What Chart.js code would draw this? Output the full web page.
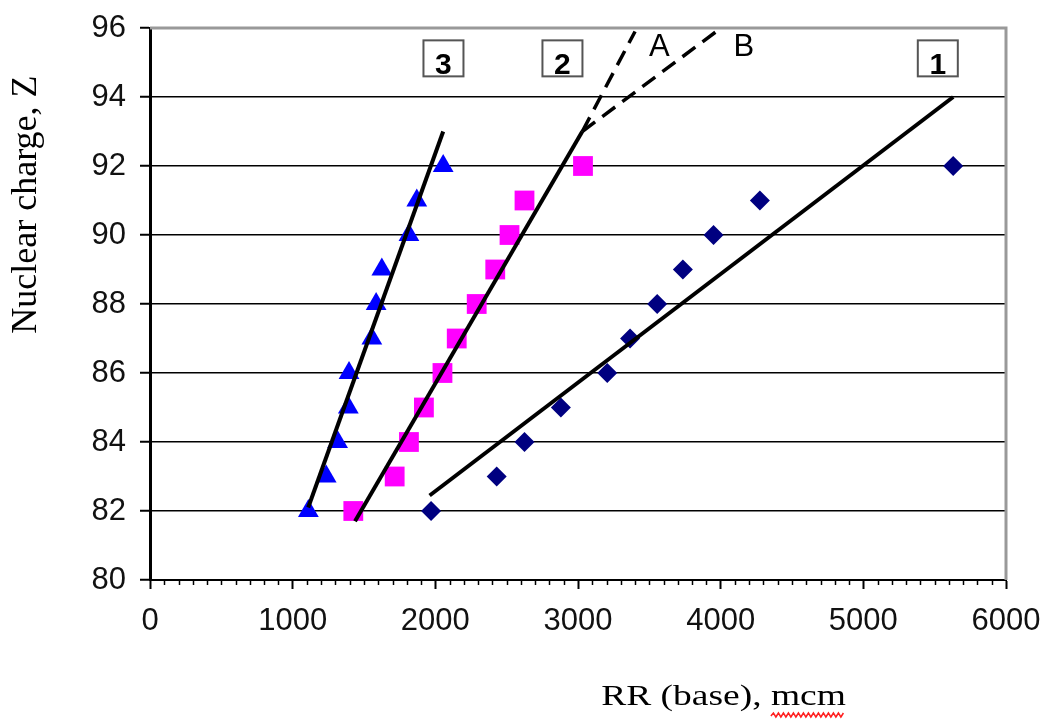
<!DOCTYPE html>
<html>
<head>
<meta charset="utf-8">
<script src="https://cdn.jsdelivr.net/npm/chart.js@4.4.1/dist/chart.umd.min.js"></script>
<style>
html, body { margin: 0; padding: 0; background: #fff; }
</style>
</head>
<body>
<canvas id="chart_z" width="1043" height="720"></canvas>
<script>
// nuclear charge, Z
var zValues = [82, 83, 84, 85, 86, 87, 88, 89, 90, 91, 92];
// RR (base), mcm - curves 1, 2, 3
var rr1 = [1970, 2430, 2625, 2880, 3205, 3365, 3555, 3735, 3950, 4275, 5630];
var rr2 = [1425, 1715, 1815, 1920, 2050, 2150, 2290, 2420, 2520, 2625, 3035];
var rr3 = [1110, 1235, 1315, 1390, 1395, 1555, 1585, 1625, 1815, 1870, 2055];

// trend lines (end points)
var fit1X = [1960, 5630], fit1Z = [82.45, 94];
var fit2X = [1437, 3030], fit2Z = [81.7, 93.0];
var fit3X = [1109, 2055], fit3Z = [82.1, 93.0];
var dashAX = [3030, 3400], dashAZ = [93.0, 95.9];
var dashBX = [3030, 3970], dashBZ = [93.0, 95.9];

// labels in the plot
var boxLabels = ['3', '2', '1'];
var boxX = [2057, 2891, 5522];
var boxZ = 95.12;
var letterLabels = ['A', 'B'];
var letterX = [3570, 4163];
var letterZ = 95.45;

function pts(xs, ys) {
  return xs.map(function (v, i) { return { x: v, y: ys[i] }; });
}

function lineSet(xs, ys, dash) {
  return {
    data: pts(xs, ys),
    showLine: true,
    borderColor: '#000',
    borderWidth: dash ? 3.5 : 4,
    borderDash: dash ? [16, 9] : [],
    pointRadius: 0,
    fill: false
  };
}

var extras = {
  id: 'extras',
  beforeDatasetsDraw: function (chart) {
    var ctx = chart.ctx, a = chart.chartArea;
    var x = chart.scales.x;
    ctx.save();
    // plot border top / right
    ctx.strokeStyle = '#999';
    ctx.lineWidth = 3;
    ctx.beginPath();
    ctx.moveTo(a.left, a.top);
    ctx.lineTo(a.right, a.top);
    ctx.lineTo(a.right, a.bottom);
    ctx.stroke();
    // minor ticks on x
    ctx.strokeStyle = '#000';
    ctx.lineWidth = 1.5;
    for (var v = 100; v < 6000; v += 100) {
      if (v % 1000 === 0) continue;
      var px = Math.round(x.getPixelForValue(v)) + 0.5;
      ctx.beginPath();
      ctx.moveTo(px, a.bottom);
      ctx.lineTo(px, a.bottom + 5);
      ctx.stroke();
    }
    ctx.restore();
  },
  afterDraw: function (chart) {
    var ctx = chart.ctx, a = chart.chartArea;
    var x = chart.scales.x, y = chart.scales.y;
    ctx.save();

    // boxed curve numbers
    ctx.font = 'bold 30px "Liberation Sans", Arial, sans-serif';
    ctx.textAlign = 'center';
    ctx.textBaseline = 'alphabetic';
    boxLabels.forEach(function (t, i) {
      var px = x.getPixelForValue(boxX[i]);
      var py = y.getPixelForValue(boxZ);
      ctx.fillStyle = '#fff';
      ctx.fillRect(px - 20, py - 18, 40, 36);
      ctx.strokeStyle = '#555';
      ctx.lineWidth = 2;
      ctx.strokeRect(px - 20, py - 18, 40, 36);
      ctx.fillStyle = '#000';
      ctx.fillText(t, px, py + 16);
    });

    // A / B
    ctx.font = '31px "Liberation Sans", Arial, sans-serif';
    ctx.textBaseline = 'middle';
    letterLabels.forEach(function (t, i) {
      ctx.fillText(t, x.getPixelForValue(letterX[i]), y.getPixelForValue(letterZ));
    });

    // y title
    ctx.font = '36px "Liberation Serif", "Times New Roman", serif';
    ctx.textBaseline = 'alphabetic';
    ctx.save();
    ctx.translate(36, a.top + (a.bottom - a.top) * 0.32);
    ctx.rotate(-Math.PI / 2);
    ctx.fillText('Nuclear charge, Z', 0, 0);
    ctx.restore();

    // x title, a bit stretched
    var title = 'RR (base), mcm';
    var sx = 1.25;
    ctx.font = '30px "Liberation Serif", "Times New Roman", serif';
    var cx = a.left + (a.right - a.left) * 0.67;
    var by = a.bottom + 125;
    var w = ctx.measureText(title).width * sx;
    var pre = ctx.measureText('RR (base), ').width * sx;
    var mw = ctx.measureText('mcm').width * sx;
    ctx.save();
    ctx.translate(cx, by);
    ctx.scale(sx, 1);
    ctx.textAlign = 'center';
    ctx.fillText(title, 0, 0);
    ctx.restore();

    // spell-check squiggle under "mcm"
    var sx0 = cx - w / 2 + pre, sx1 = sx0 + mw;
    ctx.strokeStyle = '#ff2020';
    ctx.lineWidth = 1.5;
    ctx.beginPath();
    var up = true;
    ctx.moveTo(sx0, by + 11);
    for (var p = sx0 + 2.5; p <= sx1; p += 2.5) {
      ctx.lineTo(p, by + (up ? 8 : 12));
      up = !up;
    }
    ctx.stroke();
    ctx.restore();
  }
};

var tickFont = { family: '"Liberation Sans", Arial, sans-serif', size: 31 };

var ctxZ = document.getElementById('chart_z').getContext('2d');
var zChart = new Chart(ctxZ, {
  type: 'scatter',
  data: {
    datasets: [
      lineSet(fit1X, fit1Z, false),
      lineSet(fit2X, fit2Z, false),
      lineSet(fit3X, fit3Z, false),
      lineSet(dashAX, dashAZ, true),
      lineSet(dashBX, dashBZ, true),
      {
        data: pts(rr1, zValues),
        pointStyle: 'rectRot',
        pointRadius: 10,
        backgroundColor: '#000080',
        borderWidth: 0
      },
      {
        data: pts(rr2, zValues),
        pointStyle: 'rect',
        pointRadius: 14,
        backgroundColor: '#ff00ff',
        borderWidth: 0
      },
      {
        data: pts(rr3, zValues),
        pointStyle: 'triangle',
        pointRadius: 12,
        backgroundColor: '#0000ff',
        borderWidth: 0
      }
    ]
  },
  options: {
    responsive: false,
    animation: false,
    layout: { padding: { left: 0, top: 28, right: 37, bottom: 0 } },
    plugins: {
      legend: { display: false },
      tooltip: { enabled: false }
    },
    scales: {
      x: {
        type: 'linear',
        min: 0,
        max: 6000,
        ticks: {
          stepSize: 1000, font: tickFont, color: '#111', padding: 14, maxRotation: 0,
          callback: function (v) { return String(v); }
        },
        grid: { drawOnChartArea: false, tickLength: 9, tickColor: '#000', tickWidth: 2 },
        border: { color: '#000', width: 2 },
        afterFit: function (s) { s.height = 140; s.paddingLeft = 0; s.paddingRight = 0; }
      },
      y: {
        min: 80,
        max: 96,
        ticks: {
          stepSize: 2, font: tickFont, color: '#111', padding: 14,
          callback: function (v) { return String(v); }
        },
        grid: {
          color: function (c) { return c.tick && c.tick.value === 96 ? 'rgba(0,0,0,0)' : '#000'; },
          lineWidth: 1.5,
          tickLength: 10,
          tickColor: '#000',
          tickWidth: 2
        },
        border: { color: '#000', width: 3 },
        afterFit: function (s) { s.width = 150; s.paddingTop = 0; s.paddingBottom = 0; }
      }
    }
  },
  plugins: [extras]
});
</script>
</body>
</html>
